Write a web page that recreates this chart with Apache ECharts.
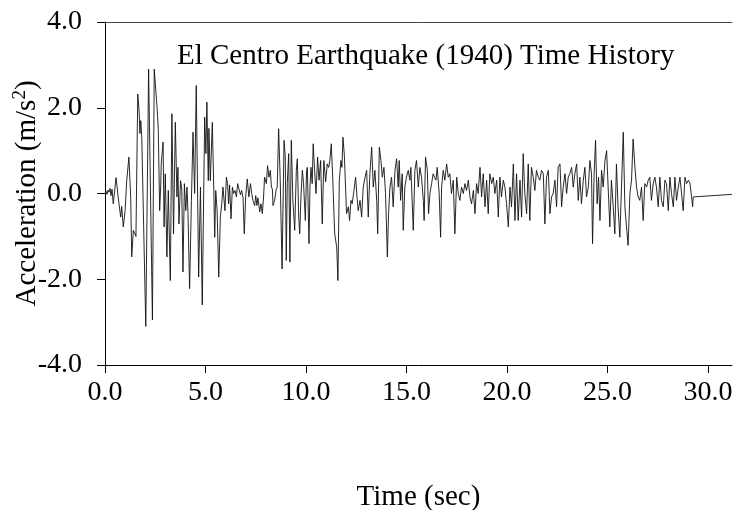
<!DOCTYPE html>
<html>
<head>
<meta charset="utf-8">
<script src="https://cdn.jsdelivr.net/npm/echarts@6/dist/echarts.min.js"></script>
<style>html,body{margin:0;padding:0;background:#fff;}#c{width:738px;height:510px;}</style>
</head>
<body>
<div id="c"></div>
<script>
const time = [
0,0.05,0.1,0.15,0.2,0.25,0.3,0.35,0.41,0.55,0.66,0.78,0.83,0.91,1.0,1.08,1.19,1.28,1.33,1.41,1.48,1.54,1.63,1.7,1.74,1.78,1.83,2.03,2.17,2.36,2.45,
2.59,2.65,2.72,2.77,2.8,2.89,2.94,3.0,3.08,3.15,3.25,3.33,3.41,3.5,3.58,3.63,3.68,3.76,3.82,3.88,3.95,4.02,4.08,4.13,4.21,4.3,4.38,4.46,4.54,4.66,4.75,4.84,4.96,
5.02,5.07,5.14,5.17,5.24,5.34,5.41,5.46,5.51,5.58,5.66,5.74,5.81,5.87,5.92,5.97,6.04,6.1,6.15,6.2,6.27,6.34,6.4,6.47,6.54,6.6,6.67,6.74,6.8,6.87,6.93,7.0,7.08,7.16,7.24,7.3,
7.36,7.45,7.5,7.56,7.61,7.66,7.7,7.76,7.83,7.89,7.94,8.03,8.09,8.16,8.23,8.28,8.33,8.36,8.44,8.52,8.57,8.64,8.72,8.81,8.91,8.97,9.02,9.07,9.14,9.2,9.27,9.35,9.44,9.52,9.57,9.64,9.69,9.75,9.82,9.88,9.97,
10.03,10.07,10.15,10.2,10.25,10.31,10.36,10.43,10.5,10.58,10.65,10.73,10.81,10.89,10.98,11.06,11.13,11.19,11.26,11.33,11.43,11.53,11.59,11.66,11.74,11.79,11.84,11.91,11.96,12.02,12.11,12.17,12.24,12.3,12.39,12.47,12.54,12.6,12.69,12.77,12.85,12.94,13.02,13.1,13.18,13.27,13.35,13.43,13.52,13.57,13.65,13.73,13.8,13.88,13.96,14.05,14.11,14.18,14.26,14.34,14.43,14.51,14.59,14.64,14.71,14.79,14.84,14.92,15.0,15.09,15.17,
15.22,15.34,15.42,15.5,15.59,15.67,15.75,15.84,15.88,15.95,16.04,16.1,16.17,16.25,16.33,16.4,16.47,16.53,16.63,16.7,16.75,16.83,16.91,17.0,17.08,17.16,17.24,17.33,17.41,17.5,17.58,17.66,17.74,17.83,17.91,17.99,18.08,18.16,18.24,18.33,18.41,18.49,18.57,18.66,18.74,18.82,18.91,18.99,19.07,19.15,19.24,19.32,19.4,19.49,19.57,19.65,19.73,19.82,19.9,19.98,20.07,20.15,
20.23,20.32,20.4,20.48,20.56,20.65,20.73,20.81,20.89,20.98,21.06,21.14,21.22,21.31,21.39,21.47,21.56,21.64,21.72,21.81,21.89,21.97,22.06,22.14,22.22,22.3,22.39,22.47,22.55,22.64,22.72,22.8,22.89,22.97,23.05,23.13,23.22,23.3,23.38,23.47,23.55,23.63,23.71,23.8,23.88,23.96,24.05,24.13,24.21,24.26,24.34,24.41,24.49,24.56,24.63,24.71,24.79,24.88,24.96,
25.12,25.2,25.29,25.37,25.45,25.53,25.62,25.7,25.79,25.87,25.95,26.03,26.12,26.2,26.28,26.37,26.45,26.53,26.61,26.7,26.78,26.86,26.95,27.03,27.11,27.19,27.28,27.36,27.44,27.53,27.61,27.69,27.78,27.86,27.94,28.03,28.11,28.19,28.28,28.36,28.44,28.53,28.61,28.69,28.77,28.86,28.94,29.03,29.11,29.19,29.24,29.27,31.2
];
const accel = [
0,0.05,-0.02,0.08,0.03,0.12,-0.05,0.1,-0.24,0.37,-0.1,-0.55,-0.3,-0.78,-0.4,0.3,0.85,-0.1,-1.48,-0.86,-0.93,-1.0,2.32,1.9,1.4,1.7,1.3,-3.1,2.9,-2.95,2.9,
2.01,1.51,-0.4,0.15,0.7,1.2,-0.78,0.46,-1.48,0.07,-2.03,1.86,-0.94,1.66,-0.08,0.61,-0.71,0.3,0.1,-1.83,0.23,-0.4,0.15,-0.47,-2.22,-0.16,1.43,0.0,2.52,-1.95,0.15,-2.6,1.78,
0.93,2.13,0.3,1.52,0.3,1.66,0.15,-1.02,0.07,-0.4,-1.95,-0.55,-0.24,0.15,0.19,-0.4,0.38,0.23,-0.24,0.2,-0.59,0.15,0.0,0.07,-0.08,0.23,0.1,-0.03,0.07,-0.1,-0.94,-0.08,0.34,-0.08,0.23,0.0,
-0.16,-0.28,-0.05,-0.28,-0.1,-0.28,-0.43,-0.24,-0.47,-0.08,0.38,0.23,0.65,0.38,0.54,0.15,0.1,-0.28,-0.16,0.1,0.15,1.51,0.3,-1.76,1.24,0.85,-1.56,0.23,0.93,-1.6,1.24,-0.16,-0.86,0.54,0.81,-0.55,-0.94,-0.08,0.54,0.23,-0.63,
0.54,0.61,-1.17,0.15,0.61,0.23,1.16,0.54,0.0,0.85,0.31,0.77,-0.71,0.77,0.27,0.69,0.61,0.77,1.16,0.38,-0.94,-1.25,-2.03,0.31,0.77,0.61,1.31,0.89,0.85,-0.47,-0.31,-0.63,-0.16,-0.24,0.07,0.38,-0.08,-0.4,-0.16,-0.55,0.15,0.38,0.54,-0.55,0.46,1.08,0.15,0.54,-0.16,-0.94,1.08,0.77,0.38,0.61,0.0,-1.48,-0.47,0.15,0.38,-0.31,0.54,0.81,0.15,0.77,-0.16,0.46,-0.86,0.15,0.38,0.54,0.31,
0.61,-0.86,0.54,0.77,0.15,0.61,0.38,-0.16,-0.63,0.85,0.54,-0.47,0.0,0.23,0.46,0.38,0.31,0.61,0.0,-1.02,0.15,0.54,0.31,0.69,0.38,0.46,0.0,0.31,-0.94,0.38,0.0,-0.16,0.15,0.0,0.23,0.07,0.31,-0.08,-0.24,0.07,-0.47,0.23,0.0,0.61,-0.08,0.46,-0.31,0.31,-0.47,0.46,0.23,0.38,0.0,0.31,-0.55,0.38,-0.08,0.31,0.15,-0.24,-0.78,0.15,
-0.31,0.69,-0.63,0.46,-0.63,0.31,-0.55,0.93,0.0,-0.47,0.69,-0.63,0.61,0.38,0.07,0.54,0.38,0.31,0.54,0.46,-0.71,0.38,0.54,-0.47,-0.08,0.0,0.31,-0.31,0.61,0.69,-0.31,0.15,0.46,0.0,0.38,0.46,0.61,0.15,0.46,0.69,-0.16,0.38,-0.24,0.31,0.61,-0.08,0.15,0.77,0.46,-1.17,0.46,1.24,-0.24,0.38,-0.63,0.54,0.15,0.77,1.0,
-0.78,0.31,-0.31,-0.94,0.69,-0.31,-1.02,0.15,1.43,-0.31,-0.78,-1.21,0.0,0.31,1.27,0.61,0.15,-0.08,-0.16,0.15,-0.63,0.23,0.15,0.31,0.38,-0.16,0.23,0.38,0.15,-0.31,0.38,-0.16,-0.31,0.31,0.23,-0.4,0.38,0.0,-0.31,0.38,-0.16,0.15,0.38,0.0,-0.4,0.38,0.23,0.31,0.23,-0.08,-0.31,-0.08,-0.02
];
const xTicks = [0, 5, 10, 15, 20, 25, 30];
const yTicks = [-4, -2, 0, 2, 4];

const FONT = "'Liberation Serif','Times New Roman',serif";
const chart = echarts.init(document.getElementById('c'), null, {renderer: 'canvas'});
const axisColor = '#000';
chart.setOption({
  animation: false,
  backgroundColor: '#fff',
  grid: {left: 105, right: 6, top: 22, bottom: 145, outerBoundsMode: 'none', containLabel: false},
  title: {
    text: 'El Centro Earthquake (1940) Time History',
    left: 177, top: 42, padding: 0,
    textStyle: {fontFamily: FONT, fontSize: 29, fontWeight: 'normal', color: '#000'}
  },
  xAxis: [{
    type: 'value', min: 0, max: 31.2, interval: 5,
    axisLine: {onZero: false, lineStyle: {color: axisColor, width: 1}},
    axisTick: {customValues: xTicks, length: 8, lineStyle: {color: axisColor}},
    axisLabel: {customValues: xTicks, formatter: v => Number(v).toFixed(1), margin: 14,
      fontFamily: FONT, fontSize: 28, color: '#000'},
    splitLine: {show: false},
    name: 'Time (sec)', nameLocation: 'middle', nameGap: 118, nameMoveOverlap: false,
    nameTextStyle: {fontFamily: FONT, fontSize: 29, color: '#000'}
  }, {
    type: 'value', position: 'top', min: 0, max: 31.2,
    axisLine: {show: true, onZero: false, lineStyle: {color: '#444', width: 1}},
    axisTick: {show: false}, axisLabel: {show: false}, splitLine: {show: false}
  }],
  yAxis: {
    type: 'value', min: -4, max: 4, interval: 2,
    axisLine: {show: true, lineStyle: {color: axisColor, width: 1}},
    axisTick: {show: true, length: 8, lineStyle: {color: axisColor}},
    axisLabel: {formatter: v => Number(v).toFixed(1), margin: 23,
      fontFamily: FONT, fontSize: 28, color: '#000'},
    splitLine: {show: false},
    name: 'Acceleration (m/s{sup|2})', nameLocation: 'middle', nameRotate: 90, nameGap: 62,
    nameMoveOverlap: false,
    nameTextStyle: {fontFamily: FONT, fontSize: 29, color: '#000',
      rich: {sup: {fontFamily: FONT, fontSize: 19, color: '#000', padding: [0, 0, 13, 0]}}}
  },
  series: [{
    type: 'line', xAxisIndex: 0,
    data: time.map((t, i) => [t, accel[i]]),
    showSymbol: false, symbol: 'none',
    lineStyle: {color: '#111', width: 0.9}
  }]
});
</script>
</body>
</html>
